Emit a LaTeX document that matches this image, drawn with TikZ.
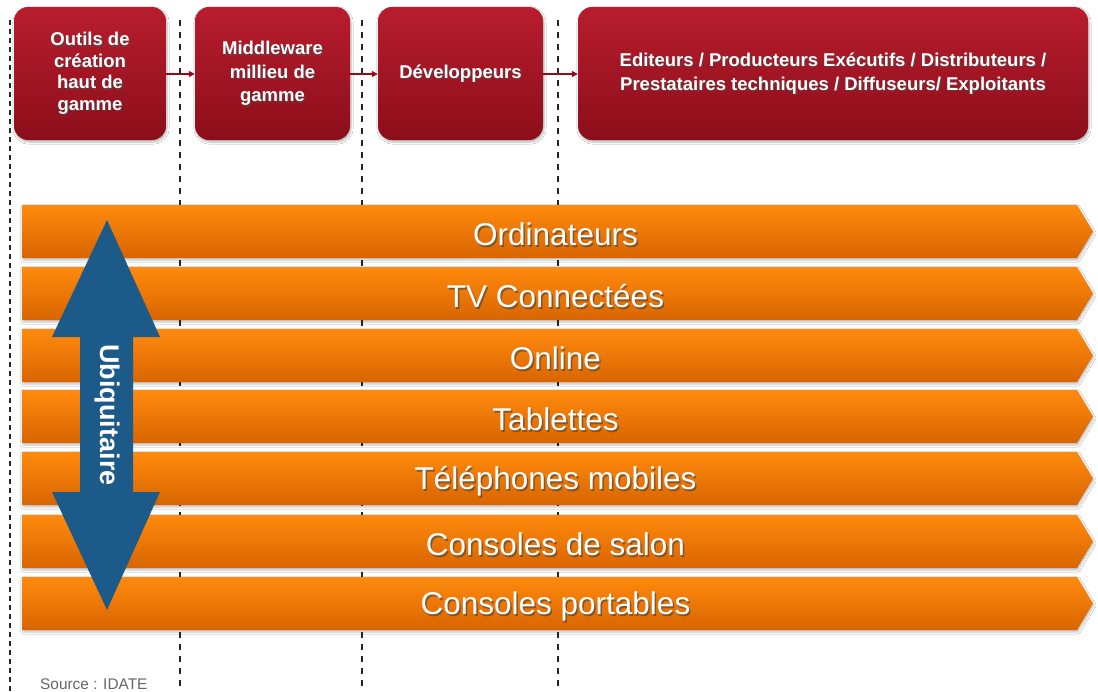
\documentclass[tikz,border=0pt]{standalone}
\usepackage{fontspec}
\setmainfont{Liberation Sans}
\usetikzlibrary{arrows.meta,shadows.blur}
\definecolor{redtop}{HTML}{B81D2E}
\definecolor{redbot}{HTML}{8C0E1A}
\definecolor{orgtop}{HTML}{FF8A0E}
\definecolor{orgbot}{HTML}{D86500}
\definecolor{bluearr}{HTML}{1C5A8A}
\definecolor{arrred}{HTML}{8E0E18}
\tikzset{
  redbox/.style={rounded corners=14pt, top color=redtop, bottom color=redbot,
     draw=none, inner sep=0pt,
     blur shadow={shadow blur steps=6, shadow xshift=1pt, shadow yshift=-2pt, shadow opacity=30}},
  boxfont/.style={font=\bfseries\fontsize{18.5}{23.5}\selectfont, align=center, inner sep=0pt},
  bar/.style={top color=orgtop, bottom color=orgbot, draw=none,
     blur shadow={shadow blur steps=5, shadow xshift=1pt, shadow yshift=-2pt, shadow opacity=25}},
  barfont/.style={font=\fontsize{31.5}{34}\selectfont, inner sep=0pt},
  sepline/.style={black!85, line width=1.8pt, dash pattern=on 6pt off 6pt},
  flow/.style={arrred, line width=1.6pt, -{Triangle[length=6pt,width=6pt]}},
}
\begin{document}
\begin{tikzpicture}[x=1pt,y=-1pt]
\useasboundingbox[fill=white] (0,0) rectangle (1098,691);
% dashed separators
\draw[sepline, dash pattern=on 5pt off 4pt] (10,20) -- (10,691);
\draw[sepline] (180,20) -- (180,691);
\draw[sepline] (362,20) -- (362,691);
\draw[sepline] (558,20) -- (558,691);
% red boxes
\node[redbox, minimum width=152pt, minimum height=133pt] (b1) at (90,73.5) {};
\node[redbox, minimum width=155pt, minimum height=133pt] (b2) at (272.5,73.5) {};
\node[redbox, minimum width=165pt, minimum height=133pt] (b3) at (460.5,73.5) {};
\node[redbox, minimum width=510pt, minimum height=133pt] (b4) at (833,73.5) {};
\foreach \n/\t/\ls in {b1/{Outils de\\création\\haut de\\gamme}/21.5, b2/{Middleware\\millieu de\\gamme}/23.5, b3/{Développeurs}/23.5, b4/{Editeurs / Producteurs Exécutifs / Distributeurs /\\Prestataires techniques / Diffuseurs/ Exploitants}/24}{
  \node[boxfont, font=\bfseries\fontsize{18.5}{\ls}\selectfont, text=black!70, opacity=0.6] at ([xshift=1.3pt,yshift=-1.5pt]\n.center) {\t};
  \node[boxfont, font=\bfseries\fontsize{18.5}{\ls}\selectfont, text=white] (\n t) at (\n.center) {\t};
}
% flow arrows
\draw[flow] (b1.east |- 0,74) -- (b2.west |- 0,74);
\draw[flow] (b2.east |- 0,74) -- (b3.west |- 0,74);
\draw[flow] (b3.east |- 0,74) -- (b4.west |- 0,74);
% orange bars
\foreach \i/\top/\lab in {1/205/Ordinateurs, 2/267/TV Connectées, 3/329/Online, 4/390/Tablettes, 5/452/Téléphones mobiles, 6/515/Consoles de salon, 7/577/Consoles portables}{
  \path[bar] (22,\top) -- (1077,\top) -- (1093,\top+26.5) -- (1077,\top+53) -- (22,\top+53) -- cycle;
  \node[barfont, text=black!75, opacity=0.6] at (557,\top+31) {\lab};
  \node[barfont, text=white] (bar\i) at (555.5,\top+29.5) {\lab};
}
% blue double arrow
\fill[bluearr] (107,220) -- (160,337) -- (133,337) -- (133,492) -- (160,492) -- (107,610)
   -- (52,492) -- (80,492) -- (80,337) -- (52,337) -- cycle;
\node[text=white, rotate=-90, font=\bfseries\fontsize{27}{30}\selectfont, inner sep=0pt] (ubi) at (107,415) {Ubiquitaire};
% source
\node[anchor=base west, text=black!60, font=\fontsize{15.4}{17}\selectfont, inner sep=0pt] (src) at (40,689) {Source : IDATE};
\end{tikzpicture}
\end{document}
